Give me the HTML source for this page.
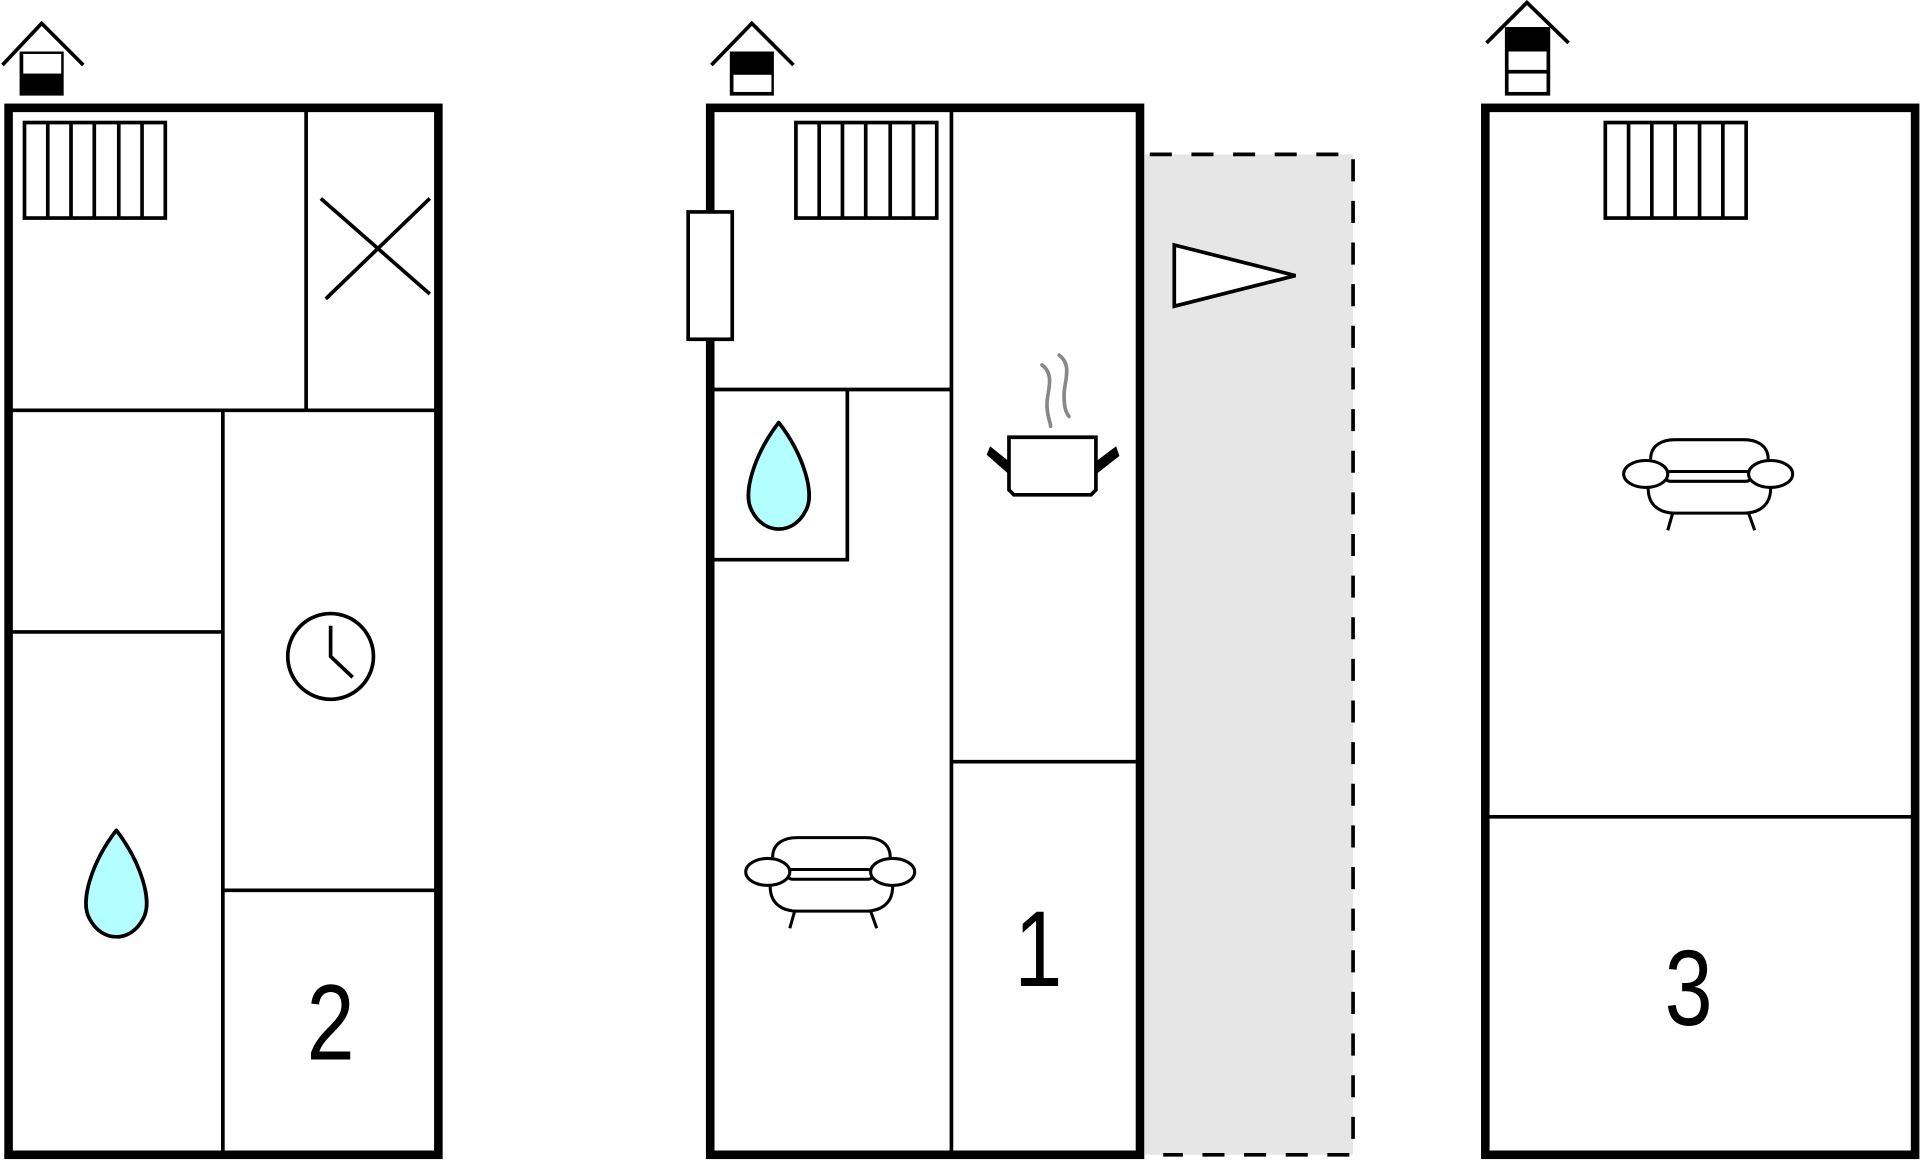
<!DOCTYPE html>
<html><head><meta charset="utf-8"><style>
html,body{margin:0;padding:0;background:#fff;width:1920px;height:1161px;overflow:hidden}
svg{display:block}
text{font-family:"Liberation Sans",sans-serif}
</style></head><body>
<svg width="1920" height="1161" viewBox="0 0 1568 948" xmlns="http://www.w3.org/2000/svg">
<defs>
<g id="rad">
<rect x="0" y="0" width="115" height="78" fill="#fff" stroke="#000" stroke-width="3"/>
<path d="M19 0V78M38 0V78M57 0V78M77 0V78M96 0V78" stroke="#000" stroke-width="3"/>
</g>
<g id="drop">
<path d="M0 0C-20 26 -30 58 -22 72C-12 92 12 92 22 72C30 58 20 26 0 0Z" fill="#b3ffff" stroke="#000" stroke-width="3" stroke-linejoin="round"/>
</g>
<g id="sofa" fill="#fff" stroke="#000" stroke-width="2.5">
<path d="M-47 -12C-47 -24 -37 -28 -27 -28H29C39 -28 49 -24 49 -12" />
<path d="M-49 12C-49 26 -39 32 -27 32H29C41 32 51 26 51 12"/>
<rect x="-35" y="-2" width="70" height="8" rx="4"/>
<ellipse cx="-51" cy="0" rx="18" ry="11"/>
<ellipse cx="51" cy="0" rx="18" ry="11"/>
<path d="M-29 32L-33 46M33 32L38 46" fill="none"/>
</g>
</defs>

<!-- Plan 1 -->
<rect x="7" y="88" width="351" height="855" fill="#fff" stroke="#000" stroke-width="7"/>
<path d="M250 88V335M7 335H358M182 335V943M7 516H182M182 727H358" stroke="#000" stroke-width="3" fill="none"/>
<use href="#rad" x="20" y="100"/>
<path d="M262 162L351 240M266 244L351 162" stroke="#000" stroke-width="3"/>
<circle cx="270" cy="536" r="35" fill="#fff" stroke="#000" stroke-width="3"/>
<path d="M270 511V536L288 553" stroke="#000" stroke-width="3" fill="none"/>
<use href="#drop" x="95" y="678"/>
<text transform="translate(270 865) scale(0.8 1)" font-size="88" text-anchor="middle">2</text>
<path d="M2 53L34 19L68 53" fill="none" stroke="#000" stroke-width="3"/>
<rect x="16" y="42" width="36" height="36" fill="#000"/>
<rect x="19" y="44" width="31" height="16" fill="#fff"/>

<!-- Plan 2 -->
<rect x="935" y="126" width="170" height="817" fill="#e6e6e6"/>
<path d="M939 126H1105V943H950" fill="none" stroke="#000" stroke-width="3" stroke-dasharray="18,16"/>
<path d="M959 200L1058 225L959 250Z" fill="#fff" stroke="#000" stroke-width="3"/>
<rect x="580" y="88" width="351" height="855" fill="#fff" stroke="#000" stroke-width="7"/>
<path d="M777 88V943M580 318H777M692 318V457H580M777 622H931" stroke="#000" stroke-width="3" fill="none"/>
<rect x="562" y="173" width="36" height="104" fill="#fff" stroke="#000" stroke-width="3"/>
<use href="#rad" x="650" y="100"/>
<use href="#drop" x="636" y="345"/>
<path d="M851 298C862 306 855 320 855 330C855 340 858 345 858 348M865 290C876 298 869 312 869 322C869 332 870 336 873 340" fill="none" stroke="#888" stroke-width="3" stroke-linecap="round"/>
<path d="M824 357H895V400L891 404H828L824 400Z" fill="#fff" stroke="#000" stroke-width="3"/>
<path d="M824 386L807 371L809 366L824 378M895 386L913 372L911 366L895 378" fill="#000" stroke="#000" stroke-width="2"/>
<use href="#sofa" x="678" y="712"/>
<text transform="translate(848 805) scale(0.8 1)" font-size="88" text-anchor="middle">1</text>
<path d="M581 53L614 19L648 53" fill="none" stroke="#000" stroke-width="3"/>
<rect x="596" y="42" width="36" height="36" fill="#000"/>
<rect x="599" y="61" width="31" height="14" fill="#fff"/>

<!-- Plan 3 -->
<rect x="1213" y="88" width="351" height="855" fill="#fff" stroke="#000" stroke-width="7"/>
<path d="M1213 667H1564" stroke="#000" stroke-width="3"/>
<use href="#rad" x="1311" y="100"/>
<use href="#sofa" x="1395" y="387"/>
<text transform="translate(1379 837) scale(0.8 1)" font-size="88" text-anchor="middle">3</text>
<path d="M1214 35L1247 2L1281 35" fill="none" stroke="#000" stroke-width="3"/>
<rect x="1229" y="22" width="37" height="56" fill="#000"/>
<rect x="1232" y="42" width="31" height="15" fill="#fff"/>
<rect x="1232" y="60" width="31" height="15" fill="#fff"/>
</svg>
</body></html>
